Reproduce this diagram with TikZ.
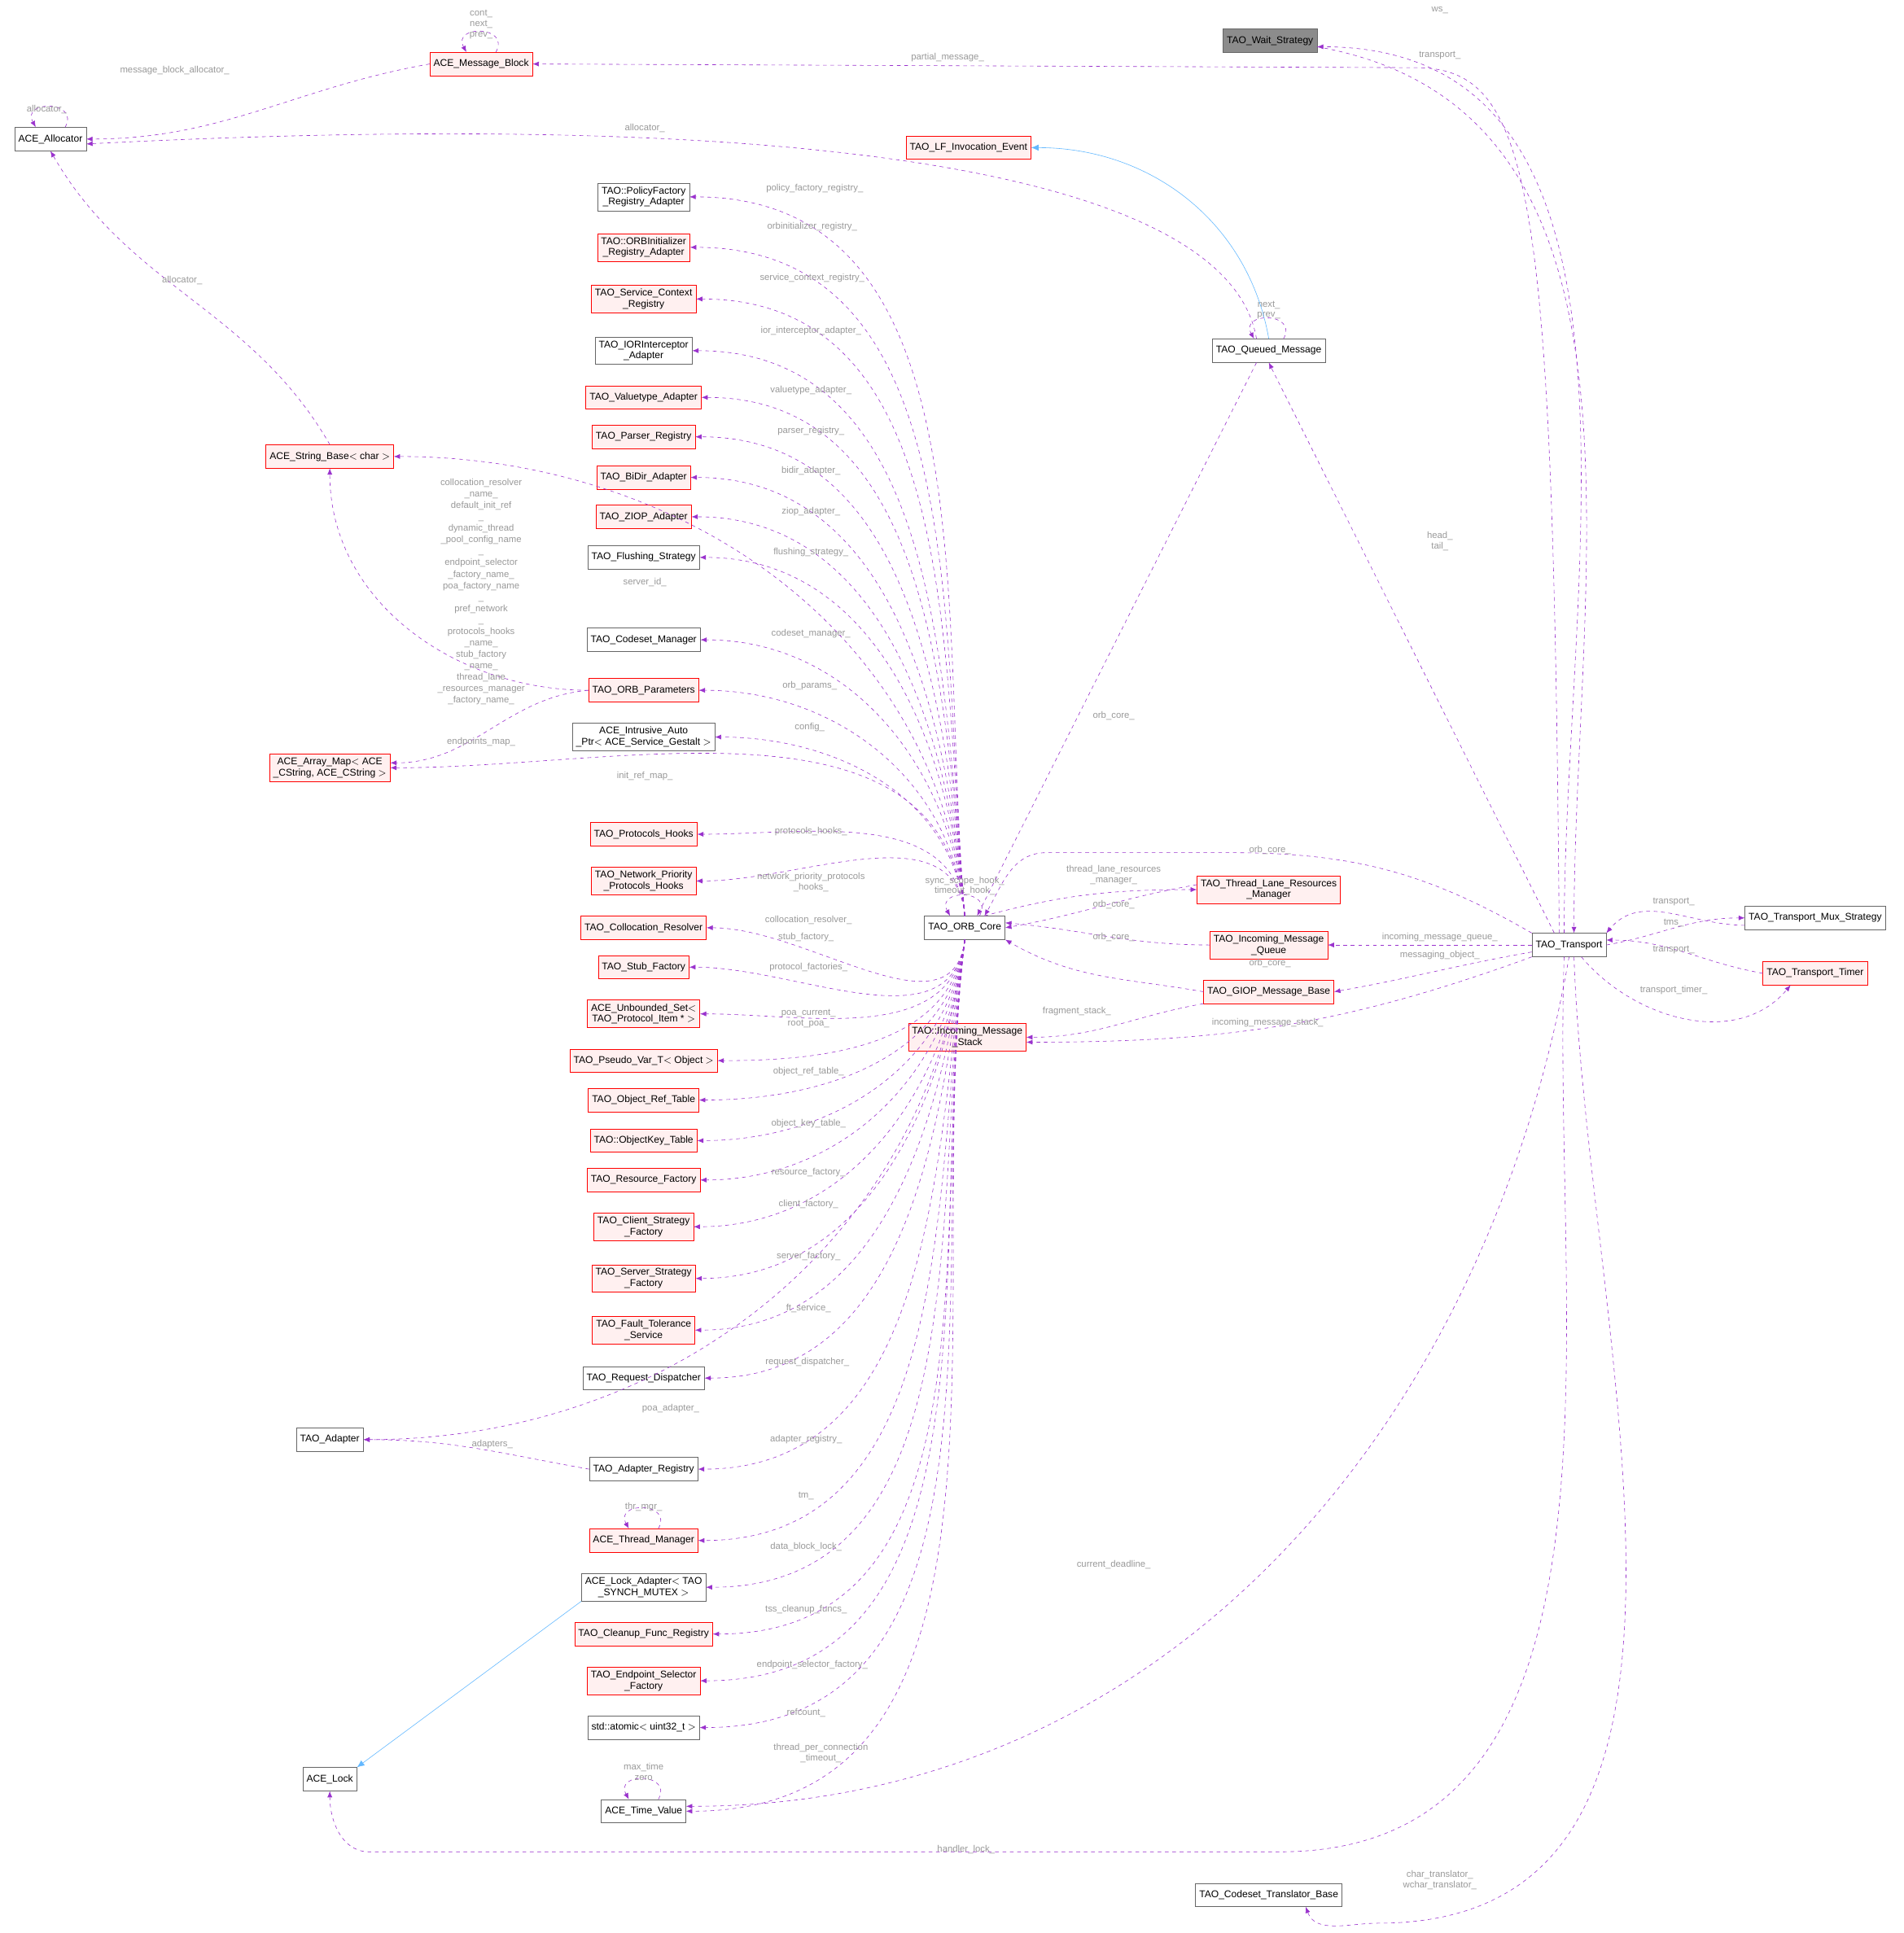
\documentclass[tikz,border=0pt]{standalone}
\usepackage{fontspec}
\setmainfont{Liberation Sans}
\usetikzlibrary{arrows.meta}
\definecolor{memb}{HTML}{9A32CD}
\definecolor{inher}{HTML}{63B8FF}
\definecolor{boxred}{HTML}{FFF0F0}
\tikzset{
  cls/.style={draw=black!60, fill=white, font=\fontsize{8}{9}\selectfont, inner sep=3pt, align=center, minimum height=19pt},
  red cls/.style={cls, draw=red},
  member/.style={memb, dashed, -{Latex[length=5pt,width=4pt]}},
  derived/.style={inher, -{Latex[length=6pt,width=5pt]}},
  lbl/.style={text=black!40, font=\fontsize{7.5}{8.5}\selectfont, align=center, inner sep=0pt},
}
\begin{document}
\begin{tikzpicture}[x=1pt,y=-1pt]
\useasboundingbox (0,0) rectangle (1547,1571);

% les classes
\node[cls, fill=black!45] (waitstr) at (1032,33) {TAO\_Wait\_Strategy};
\node[red cls, fill=boxred] (msgblock) at (391,52) {ACE\_Message\_Block};
\node[cls] (alloc) at (41,113) {ACE\_Allocator};
\node[red cls, fill=boxred] (lfevent) at (787,120) {TAO\_LF\_Invocation\_Event};
\node[cls] (policyreg) at (523,160) {TAO::PolicyFactory\\\_Registry\_Adapter};
\node[red cls, fill=boxred] (orbinit) at (523,201) {TAO::ORBInitializer\\\_Registry\_Adapter};
\node[red cls, fill=boxred] (svcctx) at (523,243) {TAO\_Service\_Context\\\_Registry};
\node[cls] (iorint) at (523,285) {TAO\_IORInterceptor\\\_Adapter};
\node[red cls, fill=boxred] (valuetype) at (523,323) {TAO\_Valuetype\_Adapter};
\node[red cls, fill=boxred] (parser) at (523,355) {TAO\_Parser\_Registry};
\node[red cls, fill=boxred] (bidir) at (523,388) {TAO\_BiDir\_Adapter};
\node[red cls, fill=boxred] (ziop) at (523,420) {TAO\_ZIOP\_Adapter};
\node[cls] (flushing) at (523,453) {TAO\_Flushing\_Strategy};
\node[cls] (codeset) at (523,520) {TAO\_Codeset\_Manager};
\node[red cls, fill=boxred] (orbparams) at (523,561) {TAO\_ORB\_Parameters};
\node[cls] (config) at (523,599) {ACE\_Intrusive\_Auto\\\_Ptr$<$ ACE\_Service\_Gestalt $>$};
\node[red cls, fill=boxred] (protohooks) at (523,678) {TAO\_Protocols\_Hooks};
\node[red cls, fill=boxred] (netprio) at (523,716) {TAO\_Network\_Priority\\\_Protocols\_Hooks};
\node[red cls, fill=boxred] (colloc) at (523,754) {TAO\_Collocation\_Resolver};
\node[red cls, fill=boxred] (stubfac) at (523,786) {TAO\_Stub\_Factory};
\node[red cls, fill=boxred] (protoset) at (523,824) {ACE\_Unbounded\_Set$<$\\TAO\_Protocol\_Item * $>$};
\node[red cls, fill=boxred] (pseudovar) at (523,862) {TAO\_Pseudo\_Var\_T$<$ Object $>$};
\node[red cls, fill=boxred] (objref) at (523,894) {TAO\_Object\_Ref\_Table};
\node[red cls, fill=boxred] (objkey) at (523,927) {TAO::ObjectKey\_Table};
\node[red cls, fill=boxred] (resfac) at (523,959) {TAO\_Resource\_Factory};
\node[red cls, fill=boxred] (clientfac) at (523,997) {TAO\_Client\_Strategy\\\_Factory};
\node[red cls, fill=boxred] (serverfac) at (523,1039) {TAO\_Server\_Strategy\\\_Factory};
\node[red cls, fill=boxred] (ftservice) at (523,1081) {TAO\_Fault\_Tolerance\\\_Service};
\node[cls] (reqdisp) at (523,1120) {TAO\_Request\_Dispatcher};
\node[cls] (adapter) at (268,1170) {TAO\_Adapter};
\node[cls] (adapterreg) at (523,1194) {TAO\_Adapter\_Registry};
\node[red cls, fill=boxred] (thrmgr) at (523,1252) {ACE\_Thread\_Manager};
\node[cls] (lockadapter) at (523,1290) {ACE\_Lock\_Adapter$<$ TAO\\\_SYNCH\_MUTEX $>$};
\node[red cls, fill=boxred] (cleanup) at (523,1328) {TAO\_Cleanup\_Func\_Registry};
\node[red cls, fill=boxred] (endpointsel) at (523,1366) {TAO\_Endpoint\_Selector\\\_Factory};
\node[cls] (refcount) at (523,1404) {std::atomic$<$ uint32\_t $>$};
\node[cls] (timevalue) at (523,1472) {ACE\_Time\_Value};
\node[cls] (acelock) at (268,1446) {ACE\_Lock};
\node[red cls, fill=boxred] (strbase) at (268,371) {ACE\_String\_Base$<$ char $>$};
\node[red cls, fill=boxred] (arraymap) at (268,624) {ACE\_Array\_Map$<$ ACE\\\_CString, ACE\_CString $>$};
\node[cls] (core) at (784,754) {TAO\_ORB\_Core};
\node[cls] (queued) at (1031,285) {TAO\_Queued\_Message};
\node[red cls, fill=boxred] (tlrm) at (1031,723) {TAO\_Thread\_Lane\_Resources\\\_Manager};
\node[red cls, fill=boxred] (inqueue) at (1031,768) {TAO\_Incoming\_Message\\\_Queue};
\node[red cls, fill=boxred] (giop) at (1031,806) {TAO\_GIOP\_Message\_Base};
\node[red cls, fill=boxred] (instack) at (786,843) {TAO::Incoming\_Message\\\_Stack};
\node[cls] (transport) at (1275,768) {TAO\_Transport};
\node[cls] (mux) at (1475,746) {TAO\_Transport\_Mux\_Strategy};
\node[red cls, fill=boxred] (timer) at (1475,791) {TAO\_Transport\_Timer};
\node[cls] (translator) at (1031,1540) {TAO\_Codeset\_Translator\_Base};

% membres de TAO_ORB_Core au-dessus
\foreach \n/\lab/\lx/\ly in {policyreg/policy\_factory\_registry\_/662/153,
  orbinit/orbinitializer\_registry\_/660/184, svcctx/service\_context\_registry\_/660/226,
  iorint/ior\_interceptor\_adapter\_/659/269, valuetype/valuetype\_adapter\_/659/317,
  parser/parser\_registry\_/659/350, bidir/bidir\_adapter\_/659/383,
  ziop/ziop\_adapter\_/659/416, flushing/flushing\_strategy\_/659/449,
  codeset/codeset\_manager\_/659/515, orbparams/orb\_params\_/658/557,
  config/config\_/658/591, protohooks/protocols\_hooks\_/659/676,
  netprio/{network\_priority\_protocols\\\_hooks\_}/659/717,
  strbase/server\_id\_/524/473, arraymap/init\_ref\_map\_/524/631}
{
  \draw[member] (core.north) to[out=95,in=0] (\n.east);
  \node[lbl] (l-\n) at (\lx,\ly) {\lab};
}
% membres de TAO_ORB_Core au-dessous
\foreach \n/\lab/\lx/\ly in {colloc/collocation\_resolver\_/657/748,
  stubfac/stub\_factory\_/655/762, protoset/protocol\_factories\_/657/786,
  pseudovar/{poa\_current\_\\root\_poa\_}/657/828, objref/object\_ref\_table\_/657/871,
  objkey/object\_key\_table\_/657/913, resfac/resource\_factory\_/657/953,
  clientfac/client\_factory\_/657/979, serverfac/server\_factory\_/657/1021,
  ftservice/ft\_service\_/657/1063, reqdisp/request\_dispatcher\_/656/1107,
  adapter/poa\_adapter\_/545/1145, adapterreg/adapter\_registry\_/655/1170,
  thrmgr/tm\_/655/1216, lockadapter/data\_block\_lock\_/655/1257,
  cleanup/tss\_cleanup\_funcs\_/655/1308, endpointsel/endpoint\_selector\_factory\_/660/1353,
  refcount/refcount\_/655/1392,
  timevalue/{thread\_per\_connection\\\_timeout\_}/667/1425}
{
  \draw[member] (core.south) to[out=-97,in=0] (\n.east);
  \node[lbl] (l-\n) at (\lx,\ly) {\lab};
}

% boucles
\draw[member] ([xshift=12]alloc.north) .. controls +(12,-22) and +(-12,-22) .. ([xshift=-12]alloc.north);
\node[lbl] (l-alloc) at (38,89) {allocator\_};
\draw[member] ([xshift=12]msgblock.north) .. controls +(12,-22) and +(-12,-22) .. ([xshift=-12]msgblock.north);
\node[lbl] (l-msgblock) at (391,20) {cont\_\\next\_\\prev\_};
\draw[member] ([xshift=12]queued.north) .. controls +(12,-22) and +(-12,-22) .. ([xshift=-12]queued.north);
\node[lbl] (l-queued) at (1031,252) {next\_\\prev\_};
\draw[member] ([xshift=12]core.north) .. controls +(12,-22) and +(-12,-22) .. ([xshift=-12]core.north);
\node[lbl] (l-core) at (784,720) {sync\_scope\_hook\_\\timeout\_hook\_};
\draw[member] ([xshift=12]thrmgr.north) .. controls +(12,-22) and +(-12,-22) .. ([xshift=-12]thrmgr.north);
\node[lbl] (l-thrmgr) at (523,1225) {thr\_mgr\_};
\draw[member] ([xshift=12]timevalue.north) .. controls +(12,-22) and +(-12,-22) .. ([xshift=-12]timevalue.north);
\node[lbl] (l-timevalue) at (523,1440) {max\_time\\zero};

% autres membres
\draw[member] (msgblock.west) to[out=190,in=0] (alloc.east);
\node[lbl] (l-mballoc) at (142,57) {message\_block\_allocator\_};
\draw[member] (strbase.north) to[out=120,in=-60] (alloc.south);
\node[lbl] (l-sballoc) at (148,228) {allocator\_};
\draw[member] ([xshift=-10]queued.north) .. controls (1000,150) and (700,85) .. ([yshift=-4]alloc.east);
\node[lbl] (l-qmalloc) at (524,104) {allocator\_};
\draw[member] (orbparams.west) to[out=180,in=-90] (strbase.south);
\node[lbl, font=\fontsize{7.5}{9.3}\selectfont] (l-params) at (391,481) {collocation\_resolver\\\_name\_\\default\_init\_ref\\\_\\dynamic\_thread\\\_pool\_config\_name\\\_\\endpoint\_selector\\\_factory\_name\_\\poa\_factory\_name\\\_\\pref\_network\\\_\\protocols\_hooks\\\_name\_\\stub\_factory\\\_name\_\\thread\_lane\\\_resources\_manager\\\_factory\_name\_};
\draw[member] (orbparams.west) to[out=185,in=0] ([yshift=4]arraymap.east);
\node[lbl] (l-endp) at (391,603) {endpoints\_map\_};
\draw[member] (adapterreg.west) to[out=170,in=0] (adapter.east);
\node[lbl] (l-adapters) at (400,1174) {adapters\_};

% heritage
\draw[derived] (queued.north) to[out=100,in=0] (lfevent.east);
\draw[derived] (lockadapter.south west) -- (acelock.north east);

% TAO_Transport
\draw[member] ([xshift=-4]transport.north) to[out=90,in=0] ([yshift=-5]waitstr.east);
\node[lbl] (l-ws) at (1170,8) {ws\_};
\draw[member] ([yshift=-5]waitstr.east) to[out=-10,in=90] ([xshift=4]transport.north);
\node[lbl] (l-wstr) at (1170,45) {transport\_};
\draw[member] ([xshift=-8]transport.north) .. controls (1262,150) and (1245,55) .. (1150,55) -- (msgblock.east);
\node[lbl] (l-partial) at (770,47) {partial\_message\_};
\draw[member] ([xshift=-12]transport.north) -- (queued.south);
\node[lbl] (l-head) at (1170,440) {head\_\\tail\_};
\draw[member] ([xshift=-10]queued.south) -- ([xshift=10]core.north);
\node[lbl] (l-qmcore) at (905,582) {orb\_core\_};
\draw[member] (transport.north west) to[out=150,in=0] (1000,693) -- (850,693) to[out=180,in=60] ([xshift=16]core.north);
\node[lbl] (l-trcore) at (1032,691) {orb\_core\_};
\draw[member] ([xshift=16]core.north) to[out=15,in=180] (tlrm.west);
\node[lbl] (l-tlrm) at (905,711) {thread\_lane\_resources\\\_manager\_};
\draw[member] ([yshift=4]tlrm.west) to[out=190,in=10] (core.east);
\node[lbl] (l-tlrmcore) at (905,735) {orb\_core\_};
\draw[member] (inqueue.west) to[out=180,in=-5] ([yshift=4]core.east);
\node[lbl] (l-iqcore) at (905,762) {orb\_core\_};
\draw[member] (transport.west) -- (inqueue.east);
\node[lbl] (l-iq) at (1170,762) {incoming\_message\_queue\_};
\draw[member] (giop.west) to[out=170,in=-30] (core.south east);
\node[lbl] (l-giopcore) at (1032,783) {orb\_core\_};
\draw[member] ([yshift=4]transport.south west) to[out=190,in=10] (giop.east);
\node[lbl] (l-msgobj) at (1170,776) {messaging\_object\_};
\draw[member] (giop.south west) to[out=190,in=0] (instack.east);
\node[lbl] (l-frag) at (875,822) {fragment\_stack\_};
\draw[member] (transport.south west) to[out=200,in=0] ([yshift=-4]instack.east);
\node[lbl] (l-instack) at (1030,831) {incoming\_message\_stack\_};
\draw[member] (transport.east) to[out=10,in=180] (mux.west);
\node[lbl] (l-tms) at (1360,750) {tms\_};
\draw[member] ([yshift=-6]mux.west) to[out=180,in=50] (transport.north east);
\node[lbl] (l-muxtr) at (1360,733) {transport\_};
\draw[member] (timer.west) to[out=170,in=0] ([yshift=4]transport.east);
\node[lbl] (l-timertr) at (1360,772) {transport\_};
\draw[member] ([xshift=10]transport.south) to[out=-50,in=-130] ([xshift=-20]timer.south);
\node[lbl] (l-timer) at (1360,805) {transport\_timer\_};
\draw[member] (transport.south) to[out=-100,in=0] ([yshift=4]timevalue.east);
\node[lbl] (l-deadline) at (905,1272) {current\_deadline\_};
\draw[member] ([xshift=-4]transport.south) to[out=-92,in=0] (1040,1505) -- (300,1505) to[out=180,in=-90] (acelock.south);
\node[lbl] (l-lock) at (785,1503) {handler\_lock\_};
\draw[member] ([xshift=4]transport.south) to[out=-88,in=0] (1120,1563) to[out=180,in=-70] ([xshift=30]translator.south);
\node[lbl] (l-trans) at (1170,1528) {char\_translator\_\\wchar\_translator\_};
\end{tikzpicture}
\end{document}
